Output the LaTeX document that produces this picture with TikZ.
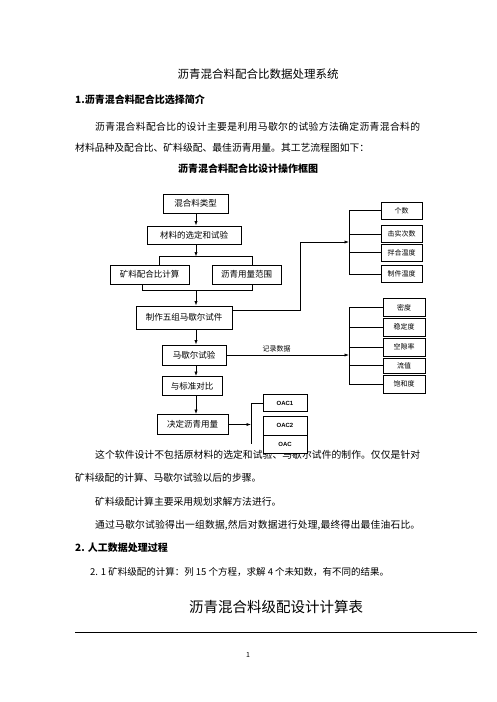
\documentclass[tikz,border=0pt]{standalone}
\usepackage{fontspec}
\setmainfont{Noto Sans CJK SC}
\newfontfamily\lat{Liberation Sans}
\usetikzlibrary{arrows.meta}
\XeTeXlinebreaklocale "zh"
\XeTeXlinebreakskip=0pt plus 2pt
\newcommand\jline[2]{\parbox{#1}{\parfillskip=0pt\relax #2}}
\tikzset{
  box/.style={draw, line width=0.8pt, inner sep=0pt, fill=white, font=\fontsize{8.5}{10}\selectfont},
  sbox/.style={draw, line width=0.8pt, inner sep=0pt, fill=white, minimum width=41pt, font=\fontsize{7}{8}\selectfont},
  obox/.style={draw, line width=0.8pt, inner sep=0pt, fill=white, minimum width=44pt, font=\lat\bfseries\fontsize{6}{7}\selectfont},
  arr/.style={line width=0.7pt, -{Latex[length=4.5pt,width=3.2pt]}},
  ln/.style={line width=0.7pt},
  body/.style={anchor=west, inner sep=0pt, font=\fontsize{9.8}{11}\selectfont},
  head/.style={anchor=west, inner sep=0pt, font=\bfseries\fontsize{10}{12}\selectfont},
  lbl/.style={inner sep=0pt, font=\fontsize{7}{8}\selectfont}
}
\begin{document}
\begin{tikzpicture}[x=1pt,y=-1pt]
\useasboundingbox[fill=white] (0,0) rectangle (496,702);

% ---- page text (upper) ----
\node[inner sep=0pt, font=\fontsize{11.5}{13}\selectfont] (title) at (258,74) {沥青混合料配合比数据处理系统};
\node[head] (h1) at (75,100) {1.沥青混合料配合比选择简介};
\node[body] (p1a) at (95,127) {\jline{325pt}{沥青混合料配合比的设计主要是利用马歇尔的试验方法确定沥青混合料的}};
\node[body] (p1b) at (75,148) {材料品种及配合比、矿料级配、最佳沥青用量。其工艺流程图如下：};
\node[inner sep=0pt, font=\bfseries\fontsize{10}{12}\selectfont] (sub) at (248,169) {沥青混合料配合比设计操作框图};

% ---- page text (lower) ----
\node[body] (q1) at (95,455) {\jline{325pt}{这个软件设计不包括原材料的选定和试验、马歇尔试件的制作。仅仅是针对}};
\node[body] (q2) at (75,478) {矿料级配的计算、马歇尔试验以后的步骤。};
\node[body] (q3) at (95,502) {矿料级配计算主要采用规划求解方法进行。};
\node[body] (q4) at (95,525) {\jline{325pt}{通过马歇尔试验得出一组数据,然后对数据进行处理,最终得出最佳油石比。}};
\node[head] (h2) at (75,548) {2. 人工数据处理过程};
\node[body, font=\fontsize{9.5}{11}\selectfont] (q5) at (90,572) {2. 1 矿料级配的计算：列 15 个方程，求解 4 个未知数，有不同的结果。};
\node[inner sep=0pt, font=\fontsize{14.5}{16}\selectfont] (title2) at (276,607) {沥青混合料级配设计计算表};
\coordinate (rl) at (75,632.3);
\coordinate (rr) at (477,632.3);
\draw[line width=0.9pt] (rl) -- (rr);
\node[inner sep=0pt, font=\fontsize{7}{8}\selectfont] (pg) at (248,655) {1};

% ---- flow chart boxes ----
\node[box, minimum width=65pt, minimum height=19pt] (b1) at (195.5,203.5) {混合料类型};
\node[box, minimum width=94pt, minimum height=18pt] (b2) at (194,235) {材料的选定和试验};
\node[box, minimum width=79pt, minimum height=19pt] (b3) at (149.5,274.5) {矿料配合比计算};
\node[box, minimum width=69pt, minimum height=19pt] (b4) at (246.5,274.5) {沥青用量范围};
\node[box, minimum width=96pt, minimum height=23pt] (b5) at (184,317.5) {制作五组马歇尔试件};
\node[box, minimum width=64pt, minimum height=20pt] (b6) at (194,355) {马歇尔试验};
\node[box, minimum width=60pt, minimum height=19pt] (b7) at (192,386) {与标准对比};
\node[box, minimum width=71pt, minimum height=20pt] (b8) at (192.5,424.5) {决定沥青用量};

% right group 1
\node[sbox, minimum height=17pt] (r1) at (401.5,210.5) {个数};
\node[sbox, minimum height=17pt] (r2) at (401.5,234.2) {击实次数};
\node[sbox, minimum height=17pt] (r3) at (401.5,252.7) {拌合温度};
\node[sbox, minimum height=17pt] (r4) at (401.5,274.2) {制件温度};
% right group 2
\node[sbox, minimum width=42pt, minimum height=18.5pt] (s1) at (404,307.3) {密度};
\node[sbox, minimum width=42pt, minimum height=18pt] (s2) at (404,327) {稳定度};
\node[sbox, minimum width=42pt, minimum height=18pt] (s3) at (404,347) {空隙率};
\node[sbox, minimum width=42pt, minimum height=15pt] (s4) at (404,365.5) {流值};
\node[sbox, minimum width=42pt, minimum height=18pt] (s5) at (404,384) {饱和度};

% ---- connectors ----
\coordinate (cx) at (196,0);
\coordinate (sl) at (159,256.5);
\coordinate (sr) at (252,256.5);
\coordinate (ml) at (142,290);
\coordinate (mr) at (252,290);
\draw[arr] (b1.south -| cx) -- (b2.north -| cx);
\draw[arr] (b2.south -| cx) -- (cx |- sl);
\draw[ln] (b3.north -| sl) -- (sl) -- (sr) -- (b4.north -| sr);
\draw[ln] (b3.south -| ml) -- (ml) -- (mr) -- (b4.south -| mr);
\draw[arr] (cx |- ml) -- (b5.north -| cx);
\draw[arr] (b5.south -| cx) -- (b6.north -| cx);
\draw[arr] (b6.south -| cx) -- (b7.north -| cx);
\draw[arr] (b7.south -| cx) -- (b8.north -| cx);

% to group 1
\coordinate (j1) at (300,310);
\coordinate (j2) at (300,242);
\coordinate (bx1) at (349,242);
\draw[arr] (b5.east |- j1) -- (j1) -- (j2) -- (bx1);
\draw[ln] (r1.west -| bx1) -- (r4.west -| bx1);
\foreach \r in {r1,r2,r3,r4} \draw[ln] (\r.west -| bx1) -- (\r.west);

% to group 2
\coordinate (bx2) at (349,355);
\draw[arr] (b6.east) -- node[lbl, pos=0.41, above=3pt] (rec) {记录数据} (bx2);
\draw[ln] (s1.west -| bx2) -- (s5.west -| bx2);
\foreach \r in {s1,s2,s3,s4,s5} \draw[ln] (\r.west -| bx2) -- (\r.west);

% OAC
\node[obox, minimum height=17.7pt] (o1) at (285,403) {OAC1};
\node[obox, minimum height=19pt] (o2) at (285,425.5) {OAC2};
\node[obox, minimum height=18pt] (o3) at (285,444) {OAC};
\coordinate (bx3) at (251,424.5);
\draw[arr] (b8.east) -- (bx3);
\draw[ln] (o1.west -| bx3) -- (o3.west -| bx3);
\draw[ln] (o1.west -| bx3) -- (o1.west);
\end{tikzpicture}
\end{document}
